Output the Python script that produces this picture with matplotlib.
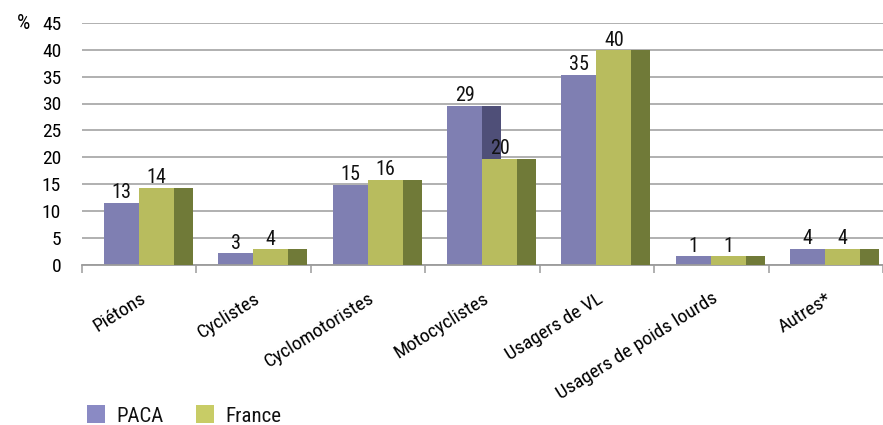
import matplotlib
matplotlib.use('Agg')
import matplotlib.pyplot as plt
from matplotlib import font_manager
from matplotlib.patches import Rectangle
import numpy as np

categories = ['Piétons', 'Cyclistes', 'Cyclomotoristes', 'Motocyclistes',
              'Usagers de VL', 'Usagers de poids lourds', 'Autres*']
paca = [11.4, 2.05, 14.8, 29.5, 35.3, 1.5, 2.85]
france = [14.2, 2.8, 15.8, 19.7, 39.9, 1.5, 2.85]
paca_labels = ['13', '3', '15', '29', '35', '1', '4']
france_labels = ['14', '4', '16', '20', '40', '1', '4']
yticks = [0, 5, 10, 15, 20, 25, 30, 35, 40, 45]
series_names = ['PACA', 'France']

names = {f.name for f in font_manager.fontManager.ttflist}
fam = 'Liberation Sans'
for cand in ['Roboto Condensed', 'Archivo Narrow', 'PT Sans Narrow', 'Liberation Sans Narrow']:
    if cand in names:
        fam = cand
        break
plt.rcParams['font.family'] = [fam, 'DejaVu Sans']

W, H = 883, 425
fig = plt.figure(figsize=(W / 100, H / 100), dpi=100)
y0, y45 = 264.5, 23
ax = fig.add_axes([82 / W, (H - y0) / H, (W - 82) / W, (y0 - y45) / H])

c_paca, c_paca_side = '#7f7fb2', '#4f4f78'
c_fr, c_fr_side = '#b8bc5e', '#707a38'
leg_colors = ['#8a8ac4', '#c8cc66']

x = np.arange(len(categories))
off, w, s = 0.19, 0.306, 0.166

ax.bar(x + off, paca, w, align='edge', color=c_paca, zorder=2, linewidth=0)
ax.bar(x + off + w, paca, s, align='edge', color=c_paca_side, zorder=2, linewidth=0)
ax.bar(x + off + w, france, w, align='edge', color=c_fr, zorder=3, linewidth=0)
ax.bar(x + off + 2 * w, france, s, align='edge', color=c_fr_side, zorder=3, linewidth=0)

for i in range(len(categories)):
    ax.annotate(paca_labels[i], (x[i] + off + w / 2, paca[i]), xytext=(0, 3.5),
                textcoords='offset points', ha='center', va='baseline',
                fontsize=14.5, color='#111111', zorder=5)
    ax.annotate(france_labels[i], (x[i] + off + 1.5 * w, france[i]), xytext=(0, 3.5),
                textcoords='offset points', ha='center', va='baseline',
                fontsize=14.5, color='#111111', zorder=5)

ax.set_xlim(0, len(categories))
ax.set_ylim(0, 45)
ax.set_yticks(yticks)
ax.set_yticklabels([str(v) for v in yticks], fontsize=14)
ax.tick_params(axis='y', length=0, pad=15)
ax.yaxis.grid(True, color='#9b9b9b', linewidth=1.1, zorder=0)
ax.set_axisbelow(True)

ax.set_xticks(np.arange(len(categories) + 1))
ax.set_xticklabels([])
ax.tick_params(axis='x', which='major', length=6, width=1.1, color='#9b9b9b', direction='out')
ax.set_xticks(x + 0.5, minor=True)
ax.set_xticklabels(categories, minor=True, rotation=32, ha='right',
                   rotation_mode='anchor', fontsize=14)
ax.tick_params(axis='x', which='minor', length=0, pad=18)

for sp in ['left', 'right', 'top']:
    ax.spines[sp].set_visible(False)
ax.spines['bottom'].set_color('#9b9b9b')
ax.spines['bottom'].set_linewidth(1.3)

fig.text(17 / W, 1 - 29 / H, '%', ha='left', va='baseline', fontsize=15)

# legend (manual, in figure pixels)
leg_x = [87, 196]
for lx, col, name in zip(leg_x, leg_colors, series_names):
    fig.add_artist(Rectangle((lx / W, 1 - 423 / H), 18 / W, 18 / H,
                             transform=fig.transFigure, color=col, linewidth=0))
    fig.text((lx + 29) / W, 1 - 421.5 / H, name, ha='left', va='baseline',
             fontsize=15, color='#111111')

fig.savefig('out.png', dpi=100)
